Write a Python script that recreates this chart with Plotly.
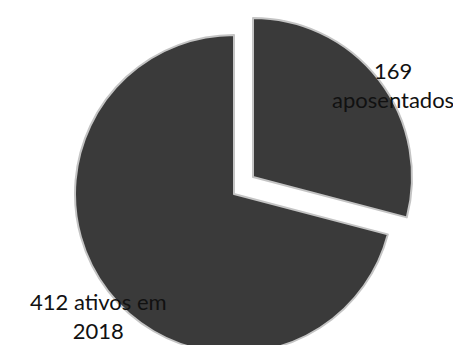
import plotly.graph_objects as go

labels = ["aposentados", "ativos em 2018"]
values = [169, 412]

W, H = 461, 345
slice_color = "#3a3a3a"
edge_color = "#c4c4c4"
clear = "rgba(0,0,0,0)"


def px_domain(cx, cy, r):
    return dict(x=[(cx - r) / W, (cx + r) / W],
                y=[(H - (cy + r)) / H, (H - (cy - r)) / H])


fig = go.Figure()
# main (not pulled) slice
fig.add_trace(go.Pie(
    labels=labels, values=values, sort=False, direction="clockwise", rotation=0,
    marker=dict(colors=[clear, slice_color], line=dict(color=edge_color, width=[0, 2])),
    textinfo="none", hoverinfo="skip", showlegend=False,
    domain=px_domain(226, 186, 159),
))
# exploded slice
fig.add_trace(go.Pie(
    labels=labels, values=values, sort=False, direction="clockwise", rotation=0,
    marker=dict(colors=[slice_color, clear], line=dict(color=edge_color, width=[2, 0])),
    textinfo="none", hoverinfo="skip", showlegend=False,
    domain=px_domain(245, 169, 159),
))

font = dict(family="Lato, Open Sans, sans-serif", size=22, color="#111111")
fig.add_annotation(text=f"{values[0]}<br>{labels[0]}", x=385 / W, y=(H - 77) / H,
                   xref="paper", yref="paper", xanchor="center", yanchor="middle",
                   showarrow=False, font=font, align="center")
fig.add_annotation(text=f"{values[1]} ativos em<br>2018", x=90 / W, y=(H - 308) / H,
                   xref="paper", yref="paper", xanchor="center", yanchor="middle",
                   showarrow=False, font=font, align="center")

fig.update_layout(width=W, height=H, margin=dict(l=0, r=0, t=0, b=0),
                  paper_bgcolor="white", plot_bgcolor="white")
fig.write_html("out.html")
